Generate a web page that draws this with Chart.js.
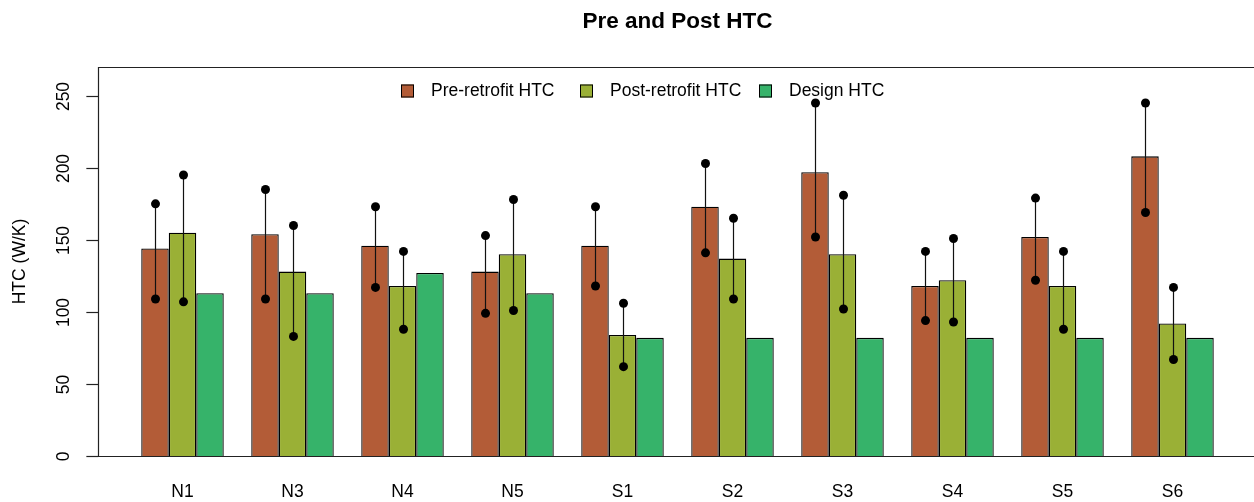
<!DOCTYPE html>
<html>
<head>
<meta charset="utf-8">
<script src="https://cdn.jsdelivr.net/npm/chart.js@4/dist/chart.umd.min.js"></script>
<style>
  html, body { margin: 0; padding: 0; background: #ffffff; }
  #wrap { width: 1254px; height: 502px; }
</style>
</head>
<body>
<div id="wrap"><canvas id="htc" width="1254" height="502"></canvas></div>
<script>
// Dwellings and heat transfer coefficients (W/K)
const categories = ['N1', 'N3', 'N4', 'N5', 'S1', 'S2', 'S3', 'S4', 'S5', 'S6'];
const preHTC    = [144, 154, 146, 128, 146, 173, 197, 118, 152, 208];
const postHTC   = [155, 128, 118, 140, 84, 137, 140, 122, 118, 92];
const designHTC = [113, 113, 127, 113, 82, 82, 82, 82, 82, 82];

// Uncertainty ranges (low / high) for measured values
const preLow   = [109, 109, 117, 99, 118, 141, 152, 94, 122, 169];
const preHigh  = [175, 185, 173, 153, 173, 203, 245, 142, 179, 245];
const postLow  = [107, 83, 88, 101, 62, 109, 102, 93, 88, 67];
const postHigh = [195, 160, 142, 178, 106, 165, 181, 151, 142, 117];

const yTicks = [0, 50, 100, 150, 200, 250];
const seriesNames = ['Pre-retrofit HTC', 'Post-retrofit HTC', 'Design HTC'];
const seriesColors = ['#B35C37', '#9AB036', '#36B36A'];
const chartTitle = 'Pre and Post HTC';
const yTitle = 'HTC (W/K)';

const FONT = '"Liberation Sans", Arial, Helvetica, sans-serif';

// Frame, y axis, titles, legend and error bars drawn on top of the bars
const decorations = {
  id: 'decorations',
  afterDatasetsDraw(chart) {
    const ctx = chart.ctx;
    const xs = chart.scales.x;
    const ys = chart.scales.y;
    const unit = (xs.right - xs.left) / (categories.length * 4);
    const boxLeft = xs.left - 1.06 * unit;
    const boxRight = xs.right + 1.06 * unit;
    const top = ys.getPixelForValue(ys.max);
    const bottom = ys.getPixelForValue(0);

    // error bars with end points
    ctx.save();
    ctx.strokeStyle = '#111';
    ctx.fillStyle = '#000';
    ctx.lineWidth = 1.2;
    [[preLow, preHigh], [postLow, postHigh]].forEach((rng, di) => {
      const meta = chart.getDatasetMeta(di);
      meta.data.forEach((bar, i) => {
        const x = Math.round(bar.x) + 0.5;
        const yl = ys.getPixelForValue(rng[0][i]);
        const yh = ys.getPixelForValue(rng[1][i]);
        ctx.beginPath();
        ctx.moveTo(x, yl);
        ctx.lineTo(x, yh);
        ctx.stroke();
        [yl, yh].forEach(y => {
          ctx.beginPath();
          ctx.arc(x, y, 4.5, 0, Math.PI * 2);
          ctx.fill();
        });
      });
    });
    ctx.restore();

    // plot frame
    ctx.save();
    ctx.strokeStyle = '#222';
    ctx.lineWidth = 1.2;
    ctx.beginPath();
    ctx.moveTo(boxRight, Math.round(top) + 0.5);
    ctx.lineTo(Math.round(boxLeft) + 0.5, Math.round(top) + 0.5);
    ctx.lineTo(Math.round(boxLeft) + 0.5, Math.round(bottom) + 0.5);
    ctx.lineTo(boxRight, Math.round(bottom) + 0.5);
    ctx.stroke();

    // y axis ticks and rotated labels
    ctx.fillStyle = '#000';
    ctx.font = '17.5px ' + FONT;
    ctx.textAlign = 'center';
    ctx.textBaseline = 'middle';
    yTicks.forEach(v => {
      const y = Math.round(ys.getPixelForValue(v)) + 0.5;
      ctx.beginPath();
      ctx.moveTo(boxLeft - 12, y);
      ctx.lineTo(boxLeft, y);
      ctx.stroke();
      ctx.save();
      ctx.translate(boxLeft - 34, y);
      ctx.rotate(-Math.PI / 2);
      ctx.fillText(String(v), 0, 0);
      ctx.restore();
    });

    // y axis title
    ctx.save();
    ctx.translate(20, (top + bottom) / 2);
    ctx.rotate(-Math.PI / 2);
    ctx.fillText(yTitle, 0, 0);
    ctx.restore();

    // main title
    ctx.font = 'bold 22.5px ' + FONT;
    ctx.textBaseline = 'alphabetic';
    ctx.fillText(chartTitle, (boxLeft + boxRight) / 2, 28);

    // legend inside the top of the plot, one column per series
    ctx.font = '17.5px ' + FONT;
    ctx.textAlign = 'left';
    ctx.textBaseline = 'middle';
    const legendX = [401, 580, 759];
    const ly = 91;
    seriesNames.forEach((name, i) => {
      const lx = legendX[i];
      ctx.fillStyle = seriesColors[i];
      ctx.fillRect(lx, ly - 6.5, 13, 13);
      ctx.strokeStyle = '#000';
      ctx.lineWidth = 1;
      ctx.strokeRect(lx + 0.5, ly - 6, 12, 12);
      ctx.fillStyle = '#000';
      ctx.fillText(name, lx + 30, ly);
    });
    ctx.restore();
  }
};

new Chart(document.getElementById('htc'), {
  type: 'bar',
  data: {
    labels: categories,
    datasets: [
      { label: seriesNames[0], data: preHTC, backgroundColor: seriesColors[0] },
      { label: seriesNames[1], data: postHTC, backgroundColor: seriesColors[1] },
      { label: seriesNames[2], data: designHTC, backgroundColor: seriesColors[2] }
    ]
  },
  options: {
    responsive: false,
    animation: false,
    devicePixelRatio: 1,
    layout: { padding: { top: 67, left: 127.5, right: 26.5, bottom: 0 } },
    datasets: {
      bar: {
        categoryPercentage: 0.75,
        barPercentage: 1.0,
        borderColor: '#000',
        borderWidth: 1.3
      }
    },
    scales: {
      x: {
        type: 'category',
        offset: true,
        grid: { display: false, drawTicks: false },
        border: { display: false },
        ticks: {
          color: '#000',
          padding: 26,
          font: { size: 17.5, family: FONT }
        },
        afterFit(scale) { scale.height = 46; }
      },
      y: {
        display: false,
        min: 0,
        max: 270
      }
    },
    plugins: {
      legend: { display: false },
      title: { display: false },
      tooltip: { enabled: false }
    }
  },
  plugins: [decorations]
});
</script>
</body>
</html>
